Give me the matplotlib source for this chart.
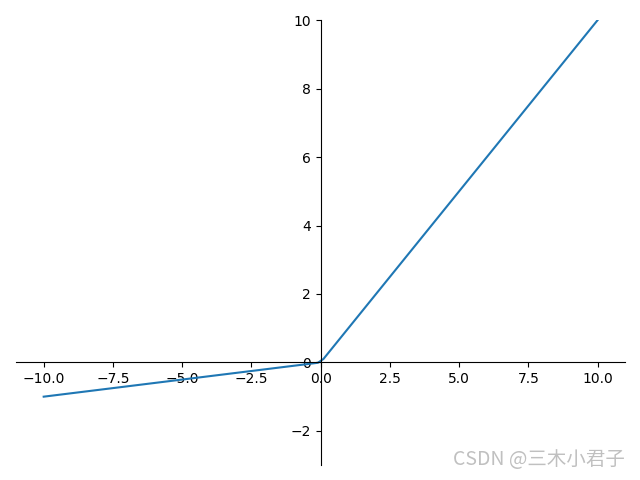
import matplotlib.pyplot as plt

# leaky relu sample points (slope 0.1 for negative x)
x_vals = [-10.0, -0.101, 0.101, 10.0]
y_vals = [-1.0, -0.0101, 0.101, 10.0]
y_ticks = [-2, 0, 2, 4, 6, 8, 10]

plt.rcParams['font.family'] = ['DejaVu Sans', 'Noto Sans CJK SC']

fig, ax = plt.subplots(figsize=(6.4, 4.8), dpi=100)
ax.plot(x_vals, y_vals, color='#1f77b4', linewidth=1.5)

ax.spines['top'].set_visible(False)
ax.spines['right'].set_visible(False)
ax.spines['left'].set_position(('data', 0))
ax.spines['bottom'].set_position(('data', 0))

ax.set_ylim(-3, 10)
ax.set_yticks(y_ticks)

fig.subplots_adjust(left=0.025, right=0.977, top=0.958, bottom=0.031)

fig.text(0.977, 0.043, 'CSDN @三木小君子', ha='right', va='center',
         fontsize=14, color='#c0c0c0', fontweight='light',
         family=['Noto Sans CJK SC', 'DejaVu Sans'])

plt.savefig('out.png')
